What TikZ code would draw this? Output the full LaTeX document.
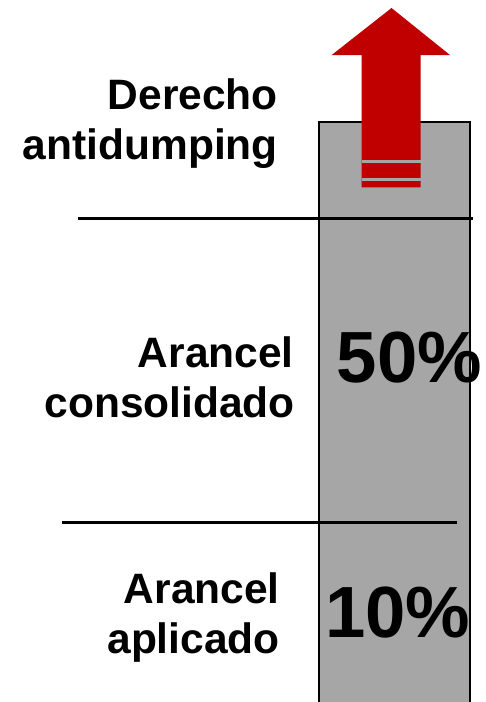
\documentclass[tikz,border=0pt]{standalone}
\usepackage{fontspec}
\setmainfont{Liberation Sans}
\definecolor{bargray}{HTML}{A6A6A6}
\definecolor{arrowred}{HTML}{C00000}
\begin{document}
\begin{tikzpicture}[x=1pt,y=-1pt,
  lbl/.style={font=\fontsize{42.5}{47}\selectfont\bfseries, align=right, inner sep=0pt},
  pct/.style={font=\fontsize{72.5}{80}\selectfont\bfseries, inner sep=0pt},
  sep/.style={line width=3pt}]
\useasboundingbox (0,0) rectangle (486,702);
% bar
\fill[bargray] (319,122) rectangle (470,710);
\draw[line width=2.3pt] (319,710) -- (319,122) -- (470,122) -- (470,710);
% separators
\draw[sep] (78,218) -- (473,218);
\draw[sep] (62,522) -- (457,522);
% arrow
\fill[arrowred] (361.7,187.3) -- (361.7,55) -- (331.7,55) -- (391.5,8) -- (450,55) -- (420.7,55) -- (420.7,187.3) -- cycle;
\fill[bargray] (361.7,160) rectangle (420.7,163);
\fill[bargray] (361.7,178) rectangle (420.7,180.7);
% labels
\node[lbl, anchor=base east] (d1) at (278,109) {Derecho};
\node[lbl, anchor=base east] (d2) at (278,159) {antidumping};
\node[lbl, anchor=base east] (c1) at (294,367) {Arancel};
\node[lbl, anchor=base east] (c2) at (295,417) {consolidado};
\node[lbl, anchor=base east] (a1) at (280,603) {Arancel};
\node[lbl, anchor=base east] (a2) at (280,653) {aplicado};
\node[pct, anchor=base west] (p50) at (336.5,382) {50\%};
\node[pct, anchor=base west] (p10) at (325,637) {10\%};
\end{tikzpicture}
\end{document}
